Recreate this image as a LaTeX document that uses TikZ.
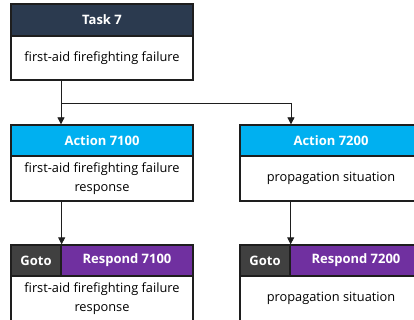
\documentclass[tikz,border=0pt]{standalone}
\usepackage{fontspec}
\setmainfont{Open Sans}
\usetikzlibrary{arrows.meta}
\definecolor{taskhead}{HTML}{2B3A4F}
\definecolor{acthead}{HTML}{00B0F0}
\definecolor{gotohead}{HTML}{404040}
\definecolor{resphead}{HTML}{7030A0}
\definecolor{edge}{HTML}{1E1E1E}
\tikzset{
  part/.style={draw=edge, line width=1.3pt, rectangle, inner sep=0pt,
    align=center, font=\fontsize{12.8}{19}\selectfont},
  head/.style={part, text=white, font=\fontsize{13}{19}\selectfont\bfseries,
    minimum height=31pt},
  body/.style={part, fill=white, minimum width=182pt},
  link/.style={draw=edge, line width=0.8pt},
  arrowlink/.style={link, -{Triangle[width=7pt,length=7pt]}}
}
\begin{document}
\begin{tikzpicture}[x=1pt, y=-1pt]
  \useasboundingbox (0,0) rectangle (414,320);
  \clip (0,0) rectangle (414,320);
  \fill[white] (0,0) rectangle (414,320);

  % task box
  \node[head, fill=taskhead, minimum width=182pt, minimum height=32pt] (th) at (102,20) {Task 7};
  \node[body, minimum height=44pt] (tb) at (102,58) {first-aid firefighting failure};

  % action boxes
  \node[head, fill=acthead, minimum width=182pt] (a1h) at (102,140.5) {Action 7100};
  \node[body, minimum height=45pt] (a1b) at (102,178.5) {first-aid firefighting failure\\response};
  \node[head, fill=acthead, minimum width=182pt] (a2h) at (331,140.5) {Action 7200};
  \node[body, minimum height=45pt] (a2b) at (331,178.5) {propagation situation};

  % respond boxes
  \node[head, fill=gotohead, minimum width=50pt] (g1) at (36,260.5) {Goto};
  \node[head, fill=resphead, minimum width=132pt] (r1h) at (127,260.5) {Respond 7100};
  \node[body, minimum height=45pt] (r1b) at (102,298.5) {first-aid firefighting failure\\response};
  \node[head, fill=gotohead, minimum width=50pt] (g2) at (265,260.5) {Goto};
  \node[head, fill=resphead, minimum width=132pt] (r2h) at (356,260.5) {Respond 7200};
  \node[body, minimum height=45pt] (r2b) at (331,298.5) {propagation situation};

  % connectors
  \coordinate (j1) at (61,103);
  \coordinate (j2) at (291,103);
  \draw[link] (j1 |- tb.south) -- (j1) -- (j2);
  \draw[arrowlink] (j1) -- (j1 |- a1h.north);
  \draw[arrowlink] (j2) -- (j2 |- a2h.north);
  \draw[arrowlink] (a1b.south -| g1.east) -- (g1.north east);
  \draw[arrowlink] (a2b.south -| g2.east) -- (g2.north east);
\end{tikzpicture}
\end{document}
